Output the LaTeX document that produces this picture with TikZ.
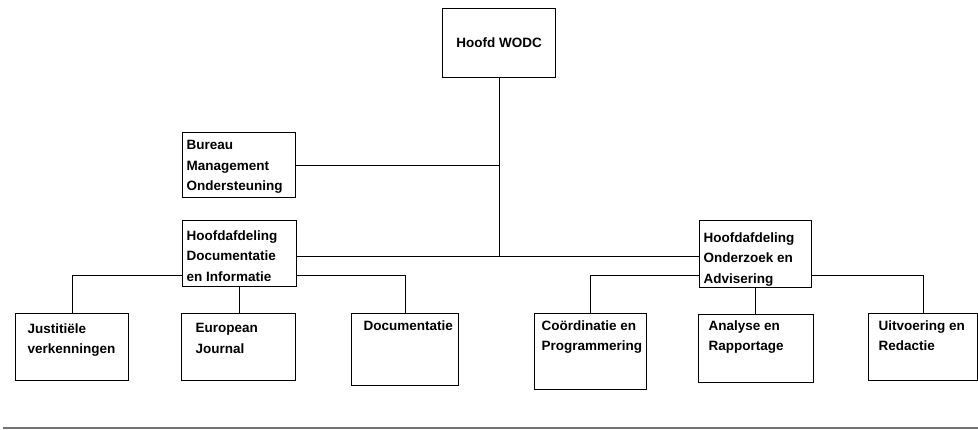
\documentclass[tikz,border=0pt]{standalone}
\usepackage{fontspec}
\setmainfont{Liberation Sans}
\usepackage{tikz}
\usetikzlibrary{backgrounds,calc}

\begin{document}
\begin{tikzpicture}[x=1pt,y=-1pt,line width=1.1pt]
  \tikzstyle{unit} = [draw,fill=white,inner sep=0pt,anchor=north west,font=\bfseries\fontsize{13.5}{20.5}\selectfont]
  \tikzstyle{unittext} = [anchor=north west,inner sep=0pt,align=left,font=\bfseries\fontsize{13.5}{20.5}\selectfont]
  \tikzstyle{footer} = [draw=black!55,line width=1.2pt]
  %
  \useasboundingbox (0,0) rectangle (978,429);
  % Top level.
  \node[unit,minimum width=113pt,minimum height=69pt] (wodc) at (442,8) {Hoofd WODC};
  % Second level.
  \node[unit,minimum width=113pt,minimum height=65pt] (bur) at (182,132) {};
  \node[unittext] (bur-t) at ($(bur.north west)+(4,8)$) {Bureau\\Management\\Ondersteuning};
  \node[unit,minimum width=114pt,minimum height=66pt] (hdi) at (182,220) {};
  \node[unittext] (hdi-t) at ($(hdi.north west)+(4,10)$) {Hoofdafdeling\\Documentatie\\en Informatie};
  \node[unit,minimum width=112pt,minimum height=67pt] (hoa) at (699,220) {};
  \node[unittext] (hoa-t) at ($(hoa.north west)+(4,12)$) {Hoofdafdeling\\Onderzoek en\\Advisering};
  % Third level.
  \node[unit,minimum width=113pt,minimum height=67pt] (jus) at (15,313) {};
  \node[unittext] (jus-t) at ($(jus.north west)+(12,10)$) {Justitiële\\verkenningen};
  \node[unit,minimum width=114pt,minimum height=67pt] (eur) at (181,313) {};
  \node[unittext] (eur-t) at ($(eur.north west)+(14,10)$) {European\\Journal};
  \node[unit,minimum width=107pt,minimum height=72pt] (doc) at (351,313) {};
  \node[unittext] (doc-t) at ($(doc.north west)+(12,7)$) {Documentatie};
  \node[unit,minimum width=112pt,minimum height=76pt] (coo) at (534,313) {};
  \node[unittext] (coo-t) at ($(coo.north west)+(7,7)$) {Coördinatie en\\Programmering};
  \node[unit,minimum width=115pt,minimum height=68pt] (ana) at (698,314) {};
  \node[unittext] (ana-t) at ($(ana.north west)+(10,6)$) {Analyse en\\Rapportage};
  \node[unit,minimum width=109pt,minimum height=67pt] (uit) at (868,313) {};
  \node[unittext] (uit-t) at ($(uit.north west)+(10,7)$) {Uitvoering en\\Redactie};
  \begin{pgfonlayer}{background}
      % Draw lines.
      \coordinate (hub) at (wodc.south |- 0,256);
      \coordinate (low) at (0,275.5);
      \draw (wodc.south) -- (hub)  (bur.east) -- (bur.east -| hub)  (hdi.east |- hub) -- (hoa.west |- hub);
      \draw (hdi.west |- low) -| (jus.north)  (hdi.east |- low) -| (doc.north)  (hdi.south) -- (hdi.south |- eur.north);
      \draw (hoa.west |- low) -| (coo.north)  (hoa.east |- low) -| (uit.north)  (hoa.south) -- (hoa.south |- ana.north);
  \end{pgfonlayer}
  % Footer rule.
  \draw[footer] (3,428) -- (978,428);
\end{tikzpicture}
\end{document}
